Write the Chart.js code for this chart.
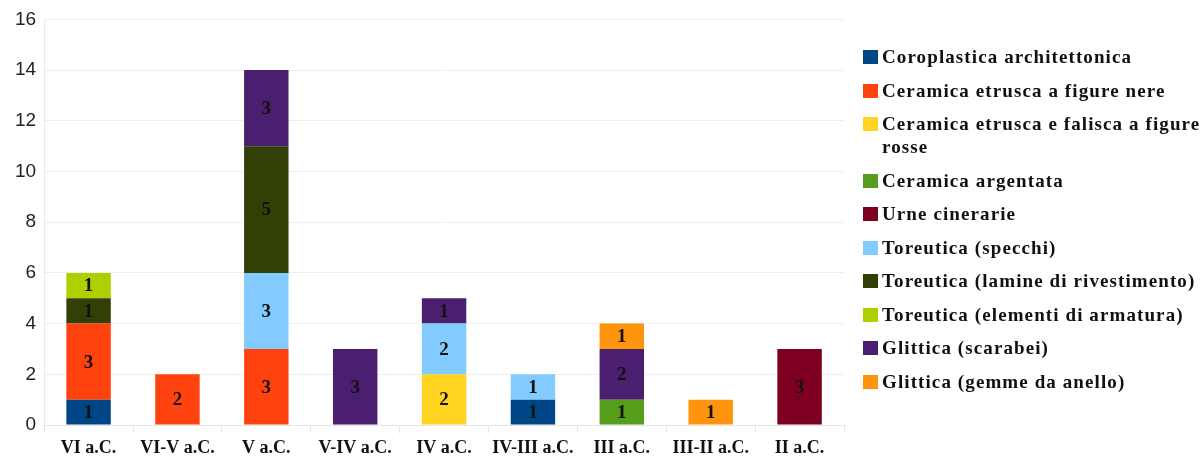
<!DOCTYPE html>
<html>
<head>
<meta charset="utf-8">
<script src="https://cdn.jsdelivr.net/npm/chart.js@4.4.1/dist/chart.umd.min.js"></script>
<style>
  html, body { margin: 0; padding: 0; background: #fff; }
  #wrap { position: relative; width: 1204px; height: 459px; }
  #chart { position: absolute; left: 0; top: 0; }
  #legend {
    position: absolute; left: 863px; top: 45px; width: 341px;
    font-family: "Liberation Serif", "Times New Roman", serif;
    font-weight: bold; font-size: 19px; letter-spacing: 1.1px; color: #111;
  }
  .item { display: flex; align-items: flex-start; margin-bottom: 10.5px; line-height: 23px; }
  .box { flex: none; width: 15px; height: 14px; margin-top: 5px; margin-right: 4px; }
</style>
</head>
<body>
<div id="wrap">
  <canvas id="chart" width="1204" height="459"></canvas>
  <div id="legend"></div>
</div>
<script>
const periods = ["VI a.C.", "VI-V a.C.", "V a.C.", "V-IV a.C.", "IV a.C.", "IV-III a.C.", "III a.C.", "III-II a.C.", "II a.C."];

const classes = [
  "Coroplastica architettonica",
  "Ceramica etrusca a figure nere",
  "Ceramica etrusca e falisca a figure rosse",
  "Ceramica argentata",
  "Urne cinerarie",
  "Toreutica (specchi)",
  "Toreutica (lamine di rivestimento)",
  "Toreutica (elementi di armatura)",
  "Glittica (scarabei)",
  "Glittica (gemme da anello)"
];

// counts per period, one array per class
const coroplastica = [1, 0, 0, 0, 0, 1, 0, 0, 0];
const figureNere   = [3, 2, 3, 0, 0, 0, 0, 0, 0];
const figureRosse  = [0, 0, 0, 0, 2, 0, 0, 0, 0];
const argentata    = [0, 0, 0, 0, 0, 0, 1, 0, 0];
const urne         = [0, 0, 0, 0, 0, 0, 0, 0, 3];
const specchi      = [0, 0, 3, 0, 2, 1, 0, 0, 0];
const lamine       = [1, 0, 5, 0, 0, 0, 0, 0, 0];
const armatura     = [1, 0, 0, 0, 0, 0, 0, 0, 0];
const scarabei     = [0, 0, 3, 3, 1, 0, 2, 0, 0];
const gemme        = [0, 0, 0, 0, 0, 0, 1, 1, 0];

const colors = ["#004586", "#ff420e", "#ffd320", "#579d1c", "#7e0021", "#83caff", "#314004", "#aecf00", "#4b1f6f", "#ff950e"];

const yTicks = [0, 2, 4, 6, 8, 10, 12, 14, 16];

const series = [coroplastica, figureNere, figureRosse, argentata, urne, specchi, lamine, armatura, scarabei, gemme];

const datasets = series.map((data, i) => ({
  label: classes[i],
  data: data.map(v => v === 0 ? null : v),
  backgroundColor: colors[i],
  borderWidth: 0,
  categoryPercentage: 1,
  barPercentage: 0.5
}));

// numbers written in the middle of each segment
const segmentLabels = {
  id: "segmentLabels",
  afterDatasetsDraw(chart) {
    const ctx = chart.ctx;
    ctx.save();
    ctx.font = "bold 19px 'Liberation Serif', serif";
    ctx.fillStyle = "#111";
    ctx.textAlign = "center";
    ctx.textBaseline = "middle";
    chart.data.datasets.forEach((ds, i) => {
      chart.getDatasetMeta(i).data.forEach((bar, j) => {
        const v = ds.data[j];
        if (!v) return;
        ctx.fillText(String(v), bar.x, (bar.y + bar.base) / 2 + 1);
      });
    });
    ctx.restore();
  }
};

new Chart(document.getElementById("chart").getContext("2d"), {
  type: "bar",
  data: { labels: periods, datasets },
  options: {
    responsive: false,
    animation: false,
    layout: { padding: { left: 7, top: 16, right: 360, bottom: 0 } },
    plugins: {
      legend: { display: false },
      tooltip: { enabled: false }
    },
    scales: {
      x: {
        stacked: true,
        afterFit: axis => { axis.height = 34; },
        grid: { drawOnChartArea: false, color: "#e4e4e4", tickLength: 8 },
        border: { color: "#e4e4e4" },
        ticks: {
          color: "#111",
          padding: 5,
          font: { family: "'Liberation Serif', serif", weight: "bold", size: 18 }
        }
      },
      y: {
        stacked: true,
        min: 0,
        max: 16,
        afterBuildTicks: axis => { axis.ticks = yTicks.map(v => ({ value: v })); },
        grid: { color: "#eeeeee", tickLength: 0 },
        border: { color: "#e8e8e8" },
        ticks: {
          color: "#222",
          padding: 8,
          font: { family: "'Liberation Sans', Arial, sans-serif", size: 19 }
        }
      }
    }
  },
  plugins: [segmentLabels]
});

// legend built from the same class names and colours
const legend = document.getElementById("legend");
classes.forEach((name, i) => {
  const item = document.createElement("div");
  item.className = "item";
  const box = document.createElement("span");
  box.className = "box";
  box.style.background = colors[i];
  const text = document.createElement("span");
  text.textContent = name;
  item.appendChild(box);
  item.appendChild(text);
  legend.appendChild(item);
});
</script>
</body>
</html>
